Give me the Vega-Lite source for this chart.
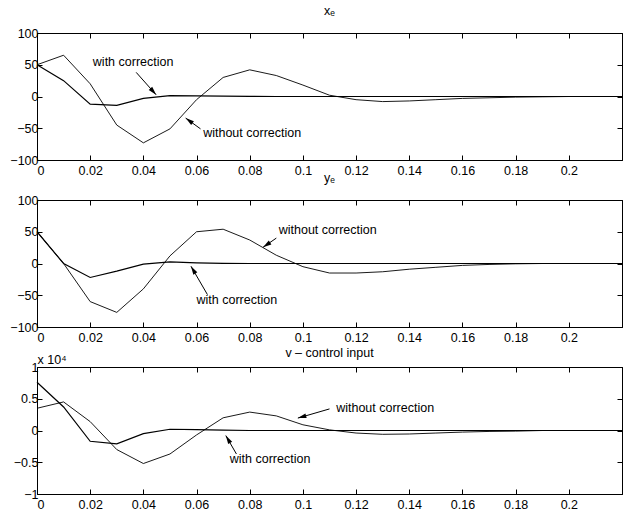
{
  "$schema": "https://vega.github.io/schema/vega-lite/v6.json",
  "padding": {"left": 9, "top": 4, "right": 0, "bottom": 0},
  "background": "white",
  "spacing": 40,
  "bounds": "flush",
  "config": {
    "font": "Liberation Sans",
    "view": {"stroke": "black", "strokeWidth": 1},
    "title": {"font": "Liberation Sans", "fontSize": 12.5, "fontWeight": "normal", "color": "black", "baseline": "alphabetic", "frame": "group"},
    "axis": {"grid": false, "domainColor": "black", "tickColor": "black", "labelColor": "black", "labelFont": "Liberation Sans", "labelFontSize": 12.5, "tickSize": -5, "domainWidth": 1, "tickWidth": 1, "title": null},
    "text": {"font": "Liberation Sans", "fontSize": 12.5, "color": "black"}
  },
  "datasets": {
    "curves": [
      {"p":"x","s":"without","t":0,"v":50},{"p":"x","s":"without","t":0.01,"v":65},{"p":"x","s":"without","t":0.02,"v":20},{"p":"x","s":"without","t":0.03,"v":-45},{"p":"x","s":"without","t":0.04,"v":-73},{"p":"x","s":"without","t":0.05,"v":-51},{"p":"x","s":"without","t":0.06,"v":-5},{"p":"x","s":"without","t":0.07,"v":30},{"p":"x","s":"without","t":0.08,"v":42},{"p":"x","s":"without","t":0.09,"v":33},{"p":"x","s":"without","t":0.1,"v":18},{"p":"x","s":"without","t":0.11,"v":2},{"p":"x","s":"without","t":0.12,"v":-5},{"p":"x","s":"without","t":0.13,"v":-8},{"p":"x","s":"without","t":0.14,"v":-7},{"p":"x","s":"without","t":0.15,"v":-5},{"p":"x","s":"without","t":0.16,"v":-3},{"p":"x","s":"without","t":0.17,"v":-2},{"p":"x","s":"without","t":0.18,"v":-1},{"p":"x","s":"without","t":0.19,"v":-0.5},{"p":"x","s":"without","t":0.2,"v":0},{"p":"x","s":"without","t":0.21,"v":0},{"p":"x","s":"without","t":0.22,"v":0},
      {"p":"x","s":"with","t":0,"v":50},{"p":"x","s":"with","t":0.01,"v":25},{"p":"x","s":"with","t":0.02,"v":-12},{"p":"x","s":"with","t":0.03,"v":-14},{"p":"x","s":"with","t":0.04,"v":-3},{"p":"x","s":"with","t":0.05,"v":1.5},{"p":"x","s":"with","t":0.06,"v":1},{"p":"x","s":"with","t":0.07,"v":0.5},{"p":"x","s":"with","t":0.08,"v":0.2},{"p":"x","s":"with","t":0.09,"v":0},{"p":"x","s":"with","t":0.1,"v":0},{"p":"x","s":"with","t":0.11,"v":0},{"p":"x","s":"with","t":0.12,"v":0},{"p":"x","s":"with","t":0.13,"v":0},{"p":"x","s":"with","t":0.14,"v":0},{"p":"x","s":"with","t":0.15,"v":0},{"p":"x","s":"with","t":0.16,"v":0},{"p":"x","s":"with","t":0.17,"v":0},{"p":"x","s":"with","t":0.18,"v":0},{"p":"x","s":"with","t":0.19,"v":0},{"p":"x","s":"with","t":0.2,"v":0},{"p":"x","s":"with","t":0.21,"v":0},{"p":"x","s":"with","t":0.22,"v":0},
      {"p":"y","s":"without","t":0,"v":50},{"p":"y","s":"without","t":0.01,"v":0},{"p":"y","s":"without","t":0.02,"v":-60},{"p":"y","s":"without","t":0.03,"v":-77},{"p":"y","s":"without","t":0.04,"v":-40},{"p":"y","s":"without","t":0.05,"v":12},{"p":"y","s":"without","t":0.06,"v":50},{"p":"y","s":"without","t":0.07,"v":54},{"p":"y","s":"without","t":0.08,"v":37},{"p":"y","s":"without","t":0.09,"v":13},{"p":"y","s":"without","t":0.1,"v":-5},{"p":"y","s":"without","t":0.11,"v":-15},{"p":"y","s":"without","t":0.12,"v":-15},{"p":"y","s":"without","t":0.13,"v":-13},{"p":"y","s":"without","t":0.14,"v":-9},{"p":"y","s":"without","t":0.15,"v":-6},{"p":"y","s":"without","t":0.16,"v":-3},{"p":"y","s":"without","t":0.17,"v":-1.5},{"p":"y","s":"without","t":0.18,"v":-0.5},{"p":"y","s":"without","t":0.19,"v":0},{"p":"y","s":"without","t":0.2,"v":0},{"p":"y","s":"without","t":0.21,"v":0},{"p":"y","s":"without","t":0.22,"v":0},
      {"p":"y","s":"with","t":0,"v":50},{"p":"y","s":"with","t":0.01,"v":0},{"p":"y","s":"with","t":0.02,"v":-22},{"p":"y","s":"with","t":0.03,"v":-12},{"p":"y","s":"with","t":0.04,"v":-1},{"p":"y","s":"with","t":0.05,"v":2.5},{"p":"y","s":"with","t":0.06,"v":1},{"p":"y","s":"with","t":0.07,"v":0.3},{"p":"y","s":"with","t":0.08,"v":0},{"p":"y","s":"with","t":0.09,"v":0},{"p":"y","s":"with","t":0.1,"v":0},{"p":"y","s":"with","t":0.11,"v":0},{"p":"y","s":"with","t":0.12,"v":0},{"p":"y","s":"with","t":0.13,"v":0},{"p":"y","s":"with","t":0.14,"v":0},{"p":"y","s":"with","t":0.15,"v":0},{"p":"y","s":"with","t":0.16,"v":0},{"p":"y","s":"with","t":0.17,"v":0},{"p":"y","s":"with","t":0.18,"v":0},{"p":"y","s":"with","t":0.19,"v":0},{"p":"y","s":"with","t":0.2,"v":0},{"p":"y","s":"with","t":0.21,"v":0},{"p":"y","s":"with","t":0.22,"v":0},
      {"p":"v","s":"without","t":0,"v":3500},{"p":"v","s":"without","t":0.01,"v":4500},{"p":"v","s":"without","t":0.02,"v":1400},{"p":"v","s":"without","t":0.03,"v":-3000},{"p":"v","s":"without","t":0.04,"v":-5200},{"p":"v","s":"without","t":0.05,"v":-3700},{"p":"v","s":"without","t":0.06,"v":-700},{"p":"v","s":"without","t":0.07,"v":2000},{"p":"v","s":"without","t":0.08,"v":2900},{"p":"v","s":"without","t":0.09,"v":2300},{"p":"v","s":"without","t":0.1,"v":900},{"p":"v","s":"without","t":0.11,"v":100},{"p":"v","s":"without","t":0.12,"v":-400},{"p":"v","s":"without","t":0.13,"v":-600},{"p":"v","s":"without","t":0.14,"v":-550},{"p":"v","s":"without","t":0.15,"v":-400},{"p":"v","s":"without","t":0.16,"v":-250},{"p":"v","s":"without","t":0.17,"v":-150},{"p":"v","s":"without","t":0.18,"v":-100},{"p":"v","s":"without","t":0.19,"v":0},{"p":"v","s":"without","t":0.2,"v":0},{"p":"v","s":"without","t":0.21,"v":0},{"p":"v","s":"without","t":0.22,"v":0},
      {"p":"v","s":"with","t":0,"v":7600},{"p":"v","s":"with","t":0.01,"v":3700},{"p":"v","s":"with","t":0.02,"v":-1700},{"p":"v","s":"with","t":0.03,"v":-2100},{"p":"v","s":"with","t":0.04,"v":-500},{"p":"v","s":"with","t":0.05,"v":200},{"p":"v","s":"with","t":0.06,"v":150},{"p":"v","s":"with","t":0.07,"v":50},{"p":"v","s":"with","t":0.08,"v":0},{"p":"v","s":"with","t":0.09,"v":0},{"p":"v","s":"with","t":0.1,"v":0},{"p":"v","s":"with","t":0.11,"v":0},{"p":"v","s":"with","t":0.12,"v":0},{"p":"v","s":"with","t":0.13,"v":0},{"p":"v","s":"with","t":0.14,"v":0},{"p":"v","s":"with","t":0.15,"v":0},{"p":"v","s":"with","t":0.16,"v":0},{"p":"v","s":"with","t":0.17,"v":0},{"p":"v","s":"with","t":0.18,"v":0},{"p":"v","s":"with","t":0.19,"v":0},{"p":"v","s":"with","t":0.2,"v":0},{"p":"v","s":"with","t":0.21,"v":0},{"p":"v","s":"with","t":0.22,"v":0}
    ],
    "notes": [
      {"p":"x","label":"with correction","tx":0.021,"ty":54,"ax":0.0373,"ay":38,"hx":0.0448,"hy":2.7},
      {"p":"x","label":"without correction","tx":0.0625,"ty":-58,"ax":0.0615,"ay":-51,"hx":0.0559,"hy":-34},
      {"p":"y","label":"without correction","tx":0.0909,"ty":52,"ax":0.09,"ay":40,"hx":0.085,"hy":25.5},
      {"p":"y","label":"with correction","tx":0.06,"ty":-57,"ax":0.0641,"ay":-49,"hx":0.0579,"hy":-4.3},
      {"p":"v","label":"without correction","tx":0.1125,"ty":3600,"ax":0.11,"ay":3400,"hx":0.0981,"hy":1950},
      {"p":"v","label":"with correction","tx":0.0725,"ty":-4500,"ax":0.075,"ay":-3700,"hx":0.071,"hy":-800}
    ]
  },
  "vconcat": [
    {
      "width": 585, "height": 127,
      "title": {"text": "xₑ", "offset": 10},
      "resolve": {"axis": {"x": "independent", "y": "independent"}},
      "layer": [
        {
          "data": {"name": "curves"},
          "transform": [{"filter": "datum.p === 'x'"}],
          "mark": {"type": "line", "color": "black"},
          "encoding": {
            "x": {"field": "t", "type": "quantitative", "scale": {"domain": [0, 0.22], "nice": false}, "axis": {"orient": "bottom", "values": [0,0.02,0.04,0.06,0.08,0.1,0.12,0.14,0.16,0.18,0.2], "format": "~g", "labelPadding": 9}},
            "y": {"field": "v", "type": "quantitative", "scale": {"domain": [-100, 100], "nice": false}, "axis": {"orient": "left", "values": [-100,-50,0,50,100], "format": "d", "labelPadding": 4}},
            "detail": {"field": "s"},
            "strokeWidth": {"field": "s", "scale": {"domain": ["with","without"], "range": [1.2, 0.9]}, "legend": null}
          }
        },
        {
          "data": {"name": "notes"},
          "transform": [{"filter": "datum.p === 'x'"}],
          "mark": {"type": "rule", "color": "black", "strokeWidth": 1},
          "encoding": {
            "x": {"field": "ax", "type": "quantitative", "axis": {"orient": "top", "values": [0,0.02,0.04,0.06,0.08,0.1,0.12,0.14,0.16,0.18,0.2], "labels": false}},
            "y": {"field": "ay", "type": "quantitative", "axis": {"orient": "right", "values": [-100,-50,0,50,100], "labels": false}},
            "x2": {"field": "hx"}, "y2": {"field": "hy"}
          }
        },
        {
          "data": {"name": "notes"},
          "transform": [{"filter": "datum.p === 'x'"}],
          "mark": {"type": "text", "align": "left", "baseline": "middle"},
          "encoding": {
            "x": {"field": "tx", "type": "quantitative", "axis": null},
            "y": {"field": "ty", "type": "quantitative", "axis": null},
            "text": {"field": "label"}
          }
        },
        {
          "data": {"name": "notes"},
          "transform": [{"filter": "datum.p === 'x' && datum.label === 'with correction'"}],
          "mark": {"type": "point", "shape": "M0,0L-0.6,2.2L0.6,2.2Z", "filled": true, "color": "black", "opacity": 1, "size": 60, "angle": 138.5, "strokeWidth": 0},
          "encoding": {
            "x": {"field": "hx", "type": "quantitative", "axis": null},
            "y": {"field": "hy", "type": "quantitative", "axis": null}
          }
        },
        {
          "data": {"name": "notes"},
          "transform": [{"filter": "datum.p === 'x' && datum.label === 'without correction'"}],
          "mark": {"type": "point", "shape": "M0,0L-0.6,2.2L0.6,2.2Z", "filled": true, "color": "black", "opacity": 1, "size": 60, "angle": 306, "strokeWidth": 0},
          "encoding": {
            "x": {"field": "hx", "type": "quantitative", "axis": null},
            "y": {"field": "hy", "type": "quantitative", "axis": null}
          }
        }
      ]
    },
    {
      "width": 585, "height": 127,
      "title": {"text": "yₑ", "offset": 10},
      "resolve": {"axis": {"x": "independent", "y": "independent"}},
      "layer": [
        {
          "data": {"name": "curves"},
          "transform": [{"filter": "datum.p === 'y'"}],
          "mark": {"type": "line", "color": "black"},
          "encoding": {
            "x": {"field": "t", "type": "quantitative", "scale": {"domain": [0, 0.22], "nice": false}, "axis": {"orient": "bottom", "values": [0,0.02,0.04,0.06,0.08,0.1,0.12,0.14,0.16,0.18,0.2], "format": "~g", "labelPadding": 9}},
            "y": {"field": "v", "type": "quantitative", "scale": {"domain": [-100, 100], "nice": false}, "axis": {"orient": "left", "values": [-100,-50,0,50,100], "format": "d", "labelPadding": 4}},
            "detail": {"field": "s"},
            "strokeWidth": {"field": "s", "scale": {"domain": ["with","without"], "range": [1.2, 0.9]}, "legend": null}
          }
        },
        {
          "data": {"name": "notes"},
          "transform": [{"filter": "datum.p === 'y'"}],
          "mark": {"type": "rule", "color": "black", "strokeWidth": 1},
          "encoding": {
            "x": {"field": "ax", "type": "quantitative", "axis": {"orient": "top", "values": [0,0.02,0.04,0.06,0.08,0.1,0.12,0.14,0.16,0.18,0.2], "labels": false}},
            "y": {"field": "ay", "type": "quantitative", "axis": {"orient": "right", "values": [-100,-50,0,50,100], "labels": false}},
            "x2": {"field": "hx"}, "y2": {"field": "hy"}
          }
        },
        {
          "data": {"name": "notes"},
          "transform": [{"filter": "datum.p === 'y'"}],
          "mark": {"type": "text", "align": "left", "baseline": "middle"},
          "encoding": {
            "x": {"field": "tx", "type": "quantitative", "axis": null},
            "y": {"field": "ty", "type": "quantitative", "axis": null},
            "text": {"field": "label"}
          }
        },
        {
          "data": {"name": "notes"},
          "transform": [{"filter": "datum.p === 'y' && datum.label === 'without correction'"}],
          "mark": {"type": "point", "shape": "M0,0L-0.6,2.2L0.6,2.2Z", "filled": true, "color": "black", "opacity": 1, "size": 60, "angle": 236, "strokeWidth": 0},
          "encoding": {
            "x": {"field": "hx", "type": "quantitative", "axis": null},
            "y": {"field": "hy", "type": "quantitative", "axis": null}
          }
        },
        {
          "data": {"name": "notes"},
          "transform": [{"filter": "datum.p === 'y' && datum.label === 'with correction'"}],
          "mark": {"type": "point", "shape": "M0,0L-0.6,2.2L0.6,2.2Z", "filled": true, "color": "black", "opacity": 1, "size": 60, "angle": 329, "strokeWidth": 0},
          "encoding": {
            "x": {"field": "hx", "type": "quantitative", "axis": null},
            "y": {"field": "hy", "type": "quantitative", "axis": null}
          }
        }
      ]
    },
    {
      "width": 585, "height": 127,
      "title": {"text": "v – control input", "offset": -6},
      "resolve": {"axis": {"x": "independent", "y": "independent"}},
      "layer": [
        {
          "data": {"name": "curves"},
          "transform": [{"filter": "datum.p === 'v'"}],
          "mark": {"type": "line", "color": "black"},
          "encoding": {
            "x": {"field": "t", "type": "quantitative", "scale": {"domain": [0, 0.22], "nice": false}, "axis": {"orient": "bottom", "values": [0,0.02,0.04,0.06,0.08,0.1,0.12,0.14,0.16,0.18,0.2], "format": "~g", "labelPadding": 9}},
            "y": {"field": "v", "type": "quantitative", "scale": {"domain": [-10000, 10000], "nice": false}, "axis": {"orient": "left", "values": [-10000,-5000,0,5000,10000], "labelExpr": "format(datum.value / 10000, '~g')", "labelPadding": 4, "title": "x 10⁴", "titleAngle": 0, "titleAlign": "left", "titleBaseline": "alphabetic", "titleX": 0, "titleY": -4, "titleFont": "Liberation Sans", "titleFontSize": 12.5, "titleFontWeight": "normal", "titleColor": "black"}},
            "detail": {"field": "s"},
            "strokeWidth": {"field": "s", "scale": {"domain": ["with","without"], "range": [1.2, 0.9]}, "legend": null}
          }
        },
        {
          "data": {"name": "notes"},
          "transform": [{"filter": "datum.p === 'v'"}],
          "mark": {"type": "rule", "color": "black", "strokeWidth": 1},
          "encoding": {
            "x": {"field": "ax", "type": "quantitative", "axis": {"orient": "top", "values": [0,0.02,0.04,0.06,0.08,0.1,0.12,0.14,0.16,0.18,0.2], "labels": false}},
            "y": {"field": "ay", "type": "quantitative", "axis": {"orient": "right", "values": [-10000,-5000,0,5000,10000], "labels": false}},
            "x2": {"field": "hx"}, "y2": {"field": "hy"}
          }
        },
        {
          "data": {"name": "notes"},
          "transform": [{"filter": "datum.p === 'v'"}],
          "mark": {"type": "text", "align": "left", "baseline": "middle"},
          "encoding": {
            "x": {"field": "tx", "type": "quantitative", "axis": null},
            "y": {"field": "ty", "type": "quantitative", "axis": null},
            "text": {"field": "label"}
          }
        },
        {
          "data": {"name": "notes"},
          "transform": [{"filter": "datum.p === 'v' && datum.label === 'without correction'"}],
          "mark": {"type": "point", "shape": "M0,0L-0.6,2.2L0.6,2.2Z", "filled": true, "color": "black", "opacity": 1, "size": 60, "angle": 254, "strokeWidth": 0},
          "encoding": {
            "x": {"field": "hx", "type": "quantitative", "axis": null},
            "y": {"field": "hy", "type": "quantitative", "axis": null}
          }
        },
        {
          "data": {"name": "notes"},
          "transform": [{"filter": "datum.p === 'v' && datum.label === 'with correction'"}],
          "mark": {"type": "point", "shape": "M0,0L-0.6,2.2L0.6,2.2Z", "filled": true, "color": "black", "opacity": 1, "size": 60, "angle": 329, "strokeWidth": 0},
          "encoding": {
            "x": {"field": "hx", "type": "quantitative", "axis": null},
            "y": {"field": "hy", "type": "quantitative", "axis": null}
          }
        }
      ]
    }
  ]
}
